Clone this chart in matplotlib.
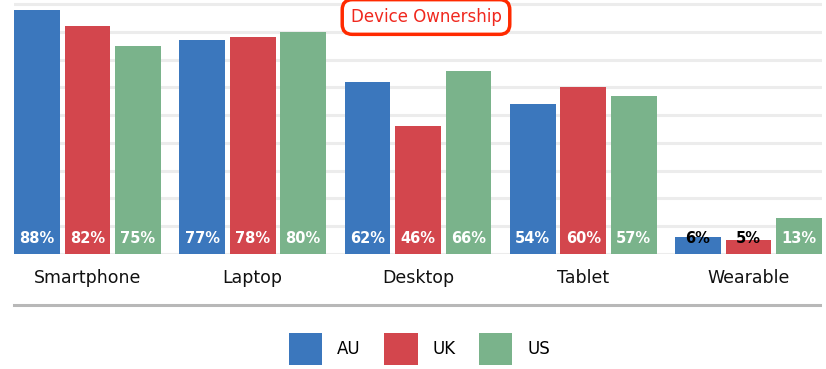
import matplotlib.pyplot as plt
from matplotlib.lines import Line2D
from matplotlib.patches import Patch

categories = ["Smartphone", "Laptop", "Desktop", "Tablet", "Wearable"]
series = ["AU", "UK", "US"]
au = [88, 77, 62, 54, 6]
uk = [82, 78, 46, 60, 5]
us = [75, 80, 66, 57, 13]
colors = ["#3b77bd", "#d3464d", "#7ab38b"]

W, H = 826, 369
fig = plt.figure(figsize=(W / 100, H / 100), dpi=100)
# axes placed in pixel terms of the reference
ax = fig.add_axes([14 / W, (H - 254) / H, 808 / W, 254 / H])

step = 0.3056
width = 0.278
values = [au, uk, us]
for k, (name, vals) in enumerate(zip(series, values)):
    xs = [i + (k - 1) * step for i in range(len(categories))]
    ax.bar(xs, vals, width=width, color=colors[k], zorder=3, label=name)
    for x, v in zip(xs, vals):
        small = v < 10
        ax.text(x, 5.5, f"{v}%", ha="center", va="center",
                fontsize=10.5, fontweight="bold",
                color="black" if small else "white", zorder=4)

ax.set_xlim(-0.4446, 4.4446)
ax.set_ylim(0, 91.5)
for y in range(0, 100, 10):
    ax.axhline(y, color="#ececec", linewidth=2.2, zorder=1)
ax.set_xticks([])
ax.set_yticks([])
for s in ax.spines.values():
    s.set_visible(False)

for i, c in enumerate(categories):
    ax.text(i, -8.8, c, ha="center", va="center", fontsize=12.5,
            color="#111111", clip_on=False)

fig.add_artist(Line2D([14 / W, 820 / W], [(H - 305) / H] * 2,
                      color="#b8b8b8", linewidth=2.2))

fig.text(426 / W, (H - 17) / H, "Device Ownership", ha="center", va="center",
         fontsize=12, color="#f0281e",
         bbox=dict(boxstyle="round,pad=0.5,rounding_size=0.6",
                   facecolor="white", edgecolor="#ff2a00", linewidth=2.5))

handles = [Patch(facecolor=c, edgecolor="none") for c in colors]
fig.legend(handles, series, loc="center", bbox_to_anchor=(0.508, (H - 349) / H),
           ncol=3, frameon=False, fontsize=12, handlelength=2.0,
           handleheight=2.5, handletextpad=0.9, columnspacing=1.4)

fig.savefig("out.png", dpi=100)
